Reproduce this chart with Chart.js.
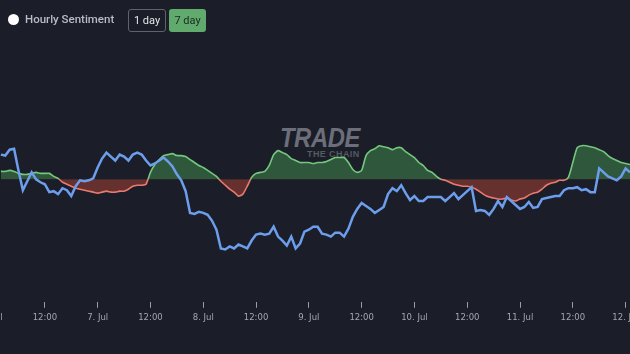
<!DOCTYPE html>
<html>
<head>
<meta charset="utf-8">
<script src="https://cdn.jsdelivr.net/npm/chart.js@4/dist/chart.umd.min.js"></script>
<style>
  html, body { margin: 0; padding: 0; background: #1b1e28; width: 630px; height: 354px; overflow: hidden; }
  #wrap { position: relative; width: 630px; height: 354px; }
  #wm { position: absolute; left: 278px; top: 122px; width: 90px; pointer-events: none; }
  #wm .t { font-family: "Liberation Sans", Arial, sans-serif; font-weight: bold; font-style: italic; font-size: 28px; color: #6c6f79; display: inline-block; transform: scaleX(0.85); transform-origin: left top; letter-spacing: -0.5px; position: absolute; left: 2px; top: 0; }
  #wm .s { font-family: "Liberation Sans", Arial, sans-serif; font-weight: bold; font-size: 9px; color: #555962; position: absolute; left: 29px; top: 27px; letter-spacing: 0.4px; white-space: nowrap; }
  canvas { position: absolute; left: 0; top: 0; }
  #legend { position: absolute; left: 0; top: 0; height: 40px; width: 630px; font-family: Roboto, "Noto Sans", sans-serif; }
  #dot { position: absolute; left: 8px; top: 14px; width: 11px; height: 11px; border-radius: 50%; background: #ffffff; }
  #ltxt { position: absolute; left: 25px; top: 12px; font-size: 11.5px; font-weight: 500; color: #b8bcc6; }
  .btn { position: absolute; top: 9px; border-radius: 3px; font-size: 11px; text-align: center; box-sizing: border-box; }
  #b1 { left: 128px; width: 38px; height: 23px; border: 1px solid #5f636c; color: #e4e6ea; line-height: 21px; }
  #b7 { left: 169px; width: 37px; height: 23px; background: #5faa6c; color: #1b2a1f; line-height: 23px; }
</style>
</head>
<body>
<div id="wrap">
  <div id="wm"><span class="t">TRADE</span><span class="s">THE CHAIN</span></div>
  <canvas id="c" width="630" height="354"></canvas>
  <div id="legend">
    <div id="dot"></div>
    <div id="ltxt">Hourly Sentiment</div>
    <div class="btn" id="b1">1 day</div>
    <div class="btn" id="b7">7 day</div>
  </div>
</div>
<script>
// Hours since 6 Jul 00:00 for each hourly sample (6 Jul 02:00 ... 12 Jul 01:00)
const hours = Array.from({length: 144}, (_, i) => i + 2);

// Hourly sentiment (positive = bullish / green, negative = bearish / red)
const sentiment = [
  8, 8, 9, 8, 6, 5, 5, 6, 7, 6, 6, 6, 3, 1, -3, -5, -7, -9, -10, -11,
  -12, -13, -14, -13, -12, -13, -13, -12, -12, -10, -7, -6, -6, -5, 7, 15, 20, 24, 25, 26,
  24, 24, 23, 20, 17, 14, 12, 9, 6, 3, -2, -6, -10, -13, -17, -15, -7, 2, 6, 7,
  8, 14, 25, 29, 27, 25, 21, 19, 17, 17, 17, 16, 17, 17, 18, 20, 22, 22, 22, 17,
  10, 7, 9, 24, 29, 31, 34, 33, 32, 30, 32, 32, 28, 25, 22, 17, 14, 9, 7, 3,
  0, -1, -3, -5, -6, -7, -7, -8, -10, -13, -16, -18, -19, -20, -20, -19, -21, -22, -20, -19,
  -16, -14, -13, -10, -6, -4, -3, -1, -1, 2, 17, 32, 34, 34, 33, 32, 30, 28, 24, 21,
  19, 17, 16, 15
];

// Price line (same hidden scale)
const price = [
  25, 24, 30, 31, 9, -11, -2, 7, 0, -3, -5, -13, -12, -15, -9, -11, -17, -7, -1, -2,
  -1, 1, 12, 21, 27, 23, 19, 25, 23, 19, 25, 27, 25, 19, 14, 16, 19, 22, 18, 13,
  5, -1, -12, -34, -35, -33, -34, -36, -42, -51, -70, -71, -68, -70, -66, -68, -70, -62, -56, -55,
  -56, -55, -48, -58, -62, -67, -58, -70, -65, -53, -51, -48, -48, -55, -56, -58, -54, -54, -58, -50,
  -38, -30, -24, -27, -30, -34, -31, -28, -15, -9, -12, -6, -14, -21, -17, -22, -22, -18, -18, -18,
  -18, -22, -18, -14, -20, -16, -12, -8, -32, -31, -32, -36, -30, -22, -28, -18, -22, -26, -30, -28,
  -23, -29, -28, -20, -19, -18, -17, -17, -11, -9, -9, -8, -11, -10, -13, -13, 11, 7, 3, 1,
  -1, 3, 11, 7
];

// X axis tick positions (hours since 6 Jul 00:00)
const tickHours = [0, 12, 24, 36, 48, 60, 72, 84, 96, 108, 120, 132, 144];
const dayLabels = ["6. Jul", "7. Jul", "8. Jul", "9. Jul", "10. Jul", "11. Jul", "12. Jul"];

const GREEN_LINE = '#74c77e', RED_LINE = '#ea7a70';
const GREEN_FILL = '#2e573b', RED_FILL = '#66302f';

function splitColor(context) {
  const chart = context.chart;
  const area = chart.chartArea;
  if (!area) return GREEN_LINE;
  const y0 = chart.scales.y.getPixelForValue(0);
  const g = chart.ctx.createLinearGradient(0, area.top, 0, area.bottom);
  let s = (y0 - area.top) / (area.bottom - area.top);
  s = Math.min(1, Math.max(0, s));
  g.addColorStop(0, GREEN_LINE);
  g.addColorStop(s, GREEN_LINE);
  g.addColorStop(s, RED_LINE);
  g.addColorStop(1, RED_LINE);
  return g;
}

new Chart(document.getElementById('c'), {
  type: 'line',
  data: {
    datasets: [
      {
        label: 'Price',
        data: hours.map((h, i) => ({x: h, y: price[i]})),
        borderColor: '#6d9ded',
        borderWidth: 2.5,
        pointRadius: 0,
        tension: 0,
        fill: false,
        order: 0
      },
      {
        label: 'Hourly Sentiment',
        data: hours.map((h, i) => ({x: h, y: sentiment[i]})),
        borderColor: splitColor,
        borderWidth: 1.6,
        pointRadius: 0,
        tension: 0.2,
        fill: {target: {value: 0}, above: GREEN_FILL, below: RED_FILL},
        order: 1
      }
    ]
  },
  options: {
    responsive: false,
    animation: false,
    events: [],
    layout: {padding: {top: 41, bottom: 26, left: 0, right: 0}},
    plugins: {legend: {display: false}, tooltip: {enabled: false}},
    scales: {
      x: {
        type: 'linear',
        min: 1.8,
        max: 145,
        border: {display: false},
        grid: {drawOnChartArea: false, drawTicks: true, tickLength: 6, color: '#9a9ea6', tickWidth: 1},
        afterBuildTicks: (scale) => { scale.ticks = tickHours.map(v => ({value: v})); },
        afterFit: (scale) => { scale.paddingLeft = 0; scale.paddingRight = 0; },
        ticks: {
          autoSkip: false,
          maxRotation: 0,
          padding: 5,
          color: '#a3a7af',
          font: {family: '"DejaVu Sans", sans-serif', size: 8.5},
          callback: (v) => (v % 24 === 0 ? dayLabels[v / 24] : '12:00')
        }
      },
      y: {
        display: false,
        min: -124,
        max: 140
      }
    }
  }
});
</script>
</body>
</html>
